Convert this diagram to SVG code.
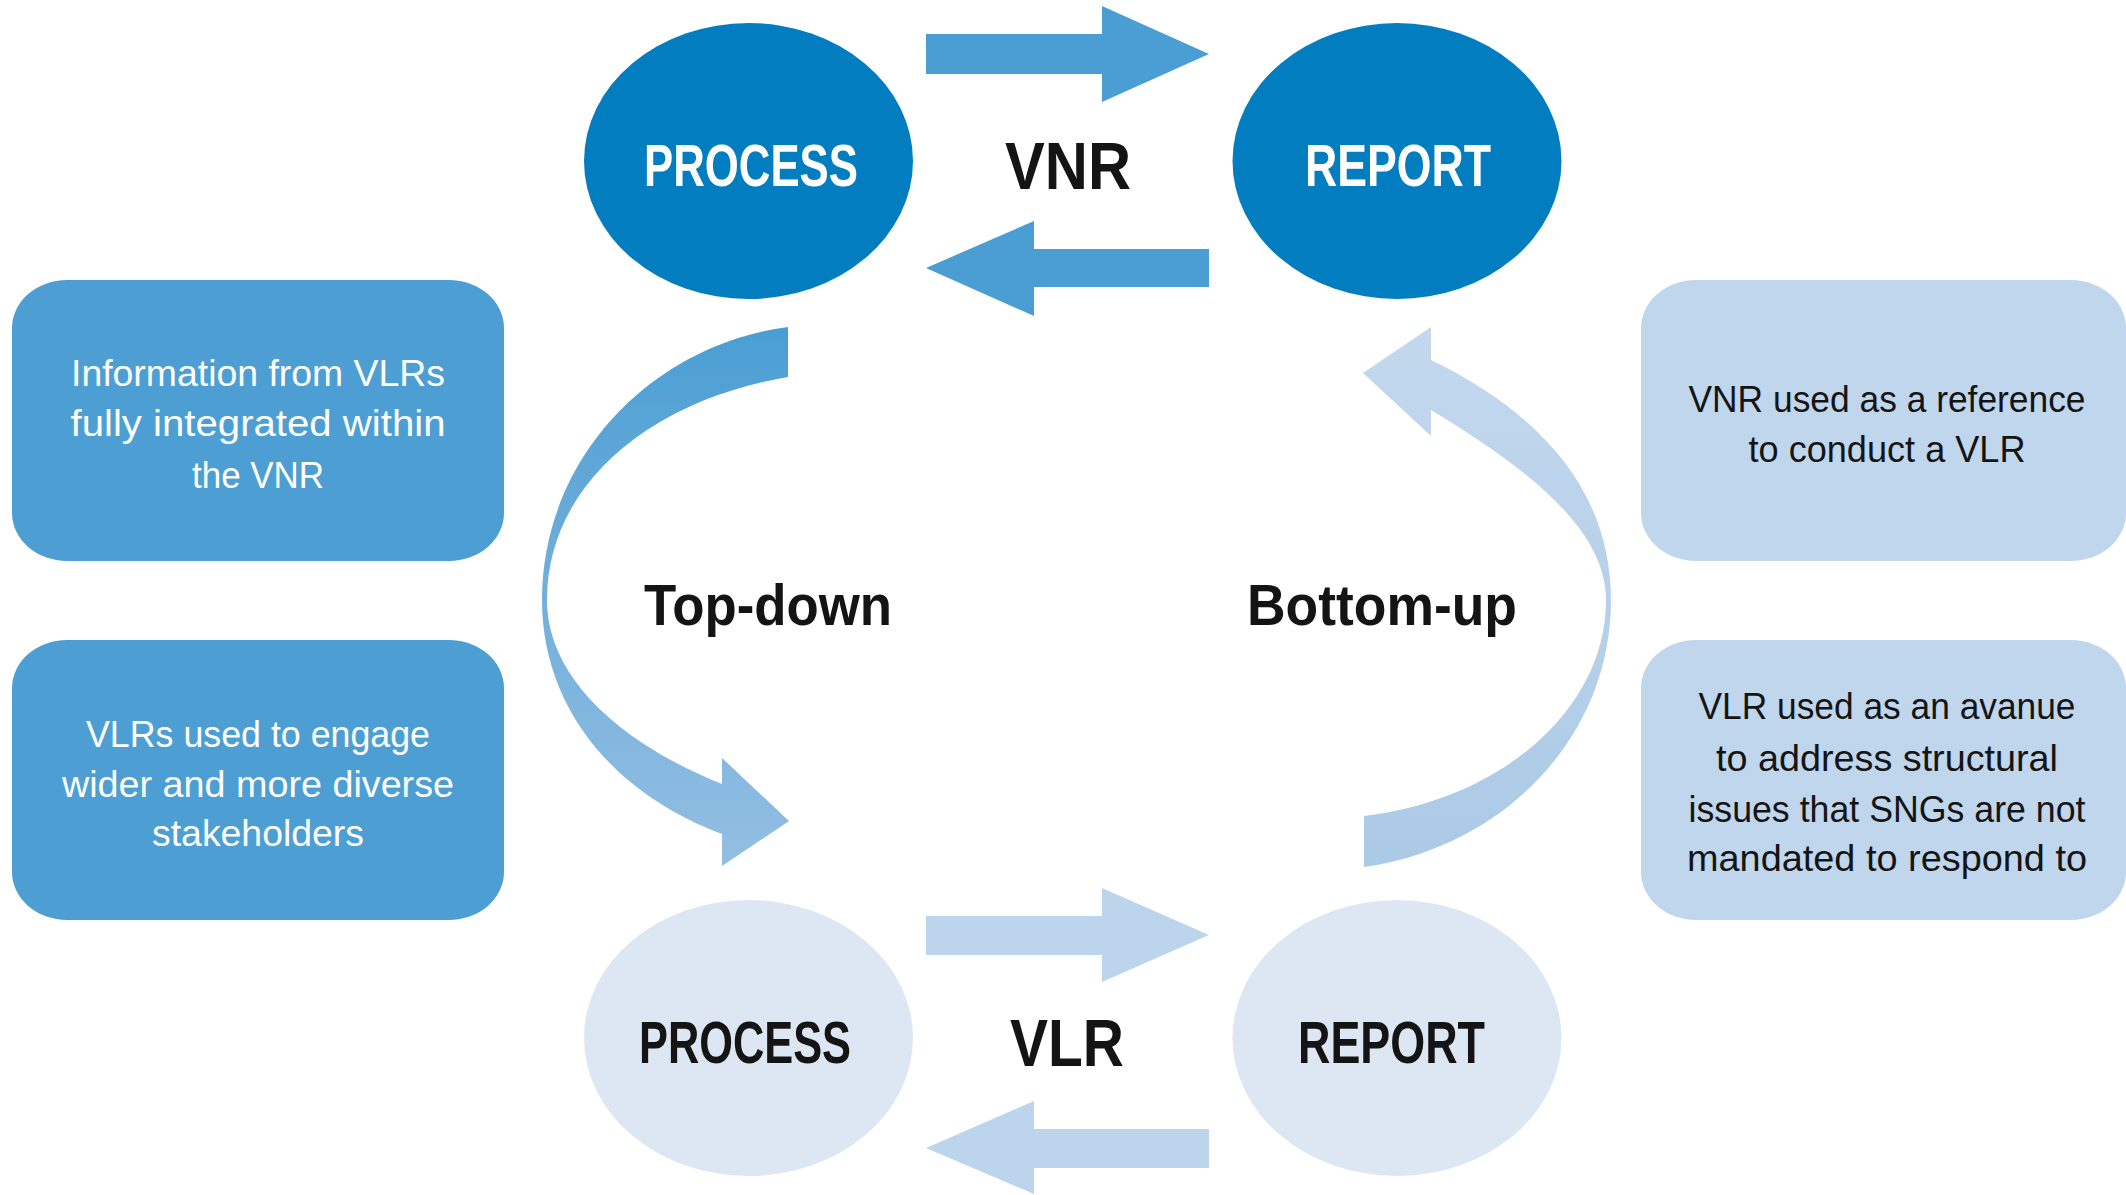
<svg xmlns="http://www.w3.org/2000/svg" width="2126" height="1195" viewBox="0 0 2126 1195">
<defs>
<style>
.lbl{font-family:"Liberation Sans",Arial,sans-serif;font-weight:bold;}
.box{font-family:"Liberation Sans",Arial,sans-serif;font-size:37px;text-anchor:middle;}
.wt{fill:#ffffff;}
.dk{fill:#141414;}
.darkE{fill:#027DBF;}
.lightE{fill:#DDE7F4;}
.arrowD{fill:#4A9ED3;}
.arrowL{fill:#BDD5EC;}
.boxD{fill:#4D9FD3;}
.boxL{fill:#C0D6EC;}
</style>
<linearGradient id="gTD" x1="0" y1="327" x2="0" y2="866" gradientUnits="userSpaceOnUse">
<stop offset="0" stop-color="#4A9ED3"/>
<stop offset="0.45" stop-color="#6FAEDB"/>
<stop offset="1" stop-color="#93BEE2"/>
</linearGradient>
<linearGradient id="gBU" x1="0" y1="327" x2="0" y2="867" gradientUnits="userSpaceOnUse">
<stop offset="0" stop-color="#C3D8ED"/>
<stop offset="1" stop-color="#ABCAE6"/>
</linearGradient>
</defs>
<rect width="2126" height="1195" fill="#ffffff"/>

<g id="connectors">
<polygon id="vnr-right" class="arrowD" points="926,34 1102,34 1102,6 1209,54 1102,102 1102,74 926,74"/>
<polygon id="vnr-left" class="arrowD" points="1209,249 1034,249 1034,221 926,268 1034,316 1034,287 1209,287"/>
<polygon id="vlr-right" class="arrowL" points="926,916 1102,916 1102,888 1209,935 1102,982 1102,955 926,955"/>
<polygon id="vlr-left" class="arrowL" points="1209,1129 1034,1129 1034,1101 926,1148 1034,1194 1034,1168 1209,1168"/>
<g id="top-down-arrow" fill="url(#gTD)">
<path d="M788,327 C650,345 542,460 542,600 C542,700 605,790 722,834 L722,784 C625,745 547,680 547,600 C547,485 650,400 788,377 Z"/>
<polygon points="722,758 789,821 722,866"/>
</g>
<g id="bottom-up-arrow" fill="url(#gBU)">
<path d="M1364,867 C1500,848 1611,740 1611,600 C1611,495 1545,415 1431,360 L1431,410 C1530,470 1606,530 1606,600 C1606,710 1500,800 1364,816 Z"/>
<polygon points="1431,327 1363,373 1431,436"/>
</g>
</g>

<g id="vnr-process">
<ellipse class="darkE" cx="748.5" cy="161" rx="164.5" ry="138"/>
<text class="lbl wt" x="644" y="186" font-size="60" textLength="214" lengthAdjust="spacingAndGlyphs">PROCESS</text>
</g>
<g id="vnr-report">
<ellipse class="darkE" cx="1397" cy="161" rx="164.5" ry="138"/>
<text class="lbl wt" x="1305" y="186" font-size="60" textLength="186" lengthAdjust="spacingAndGlyphs">REPORT</text>
</g>
<g id="vnr-label">
<text class="lbl dk" x="1005" y="189" font-size="66" textLength="126" lengthAdjust="spacingAndGlyphs">VNR</text>
</g>

<g id="vlr-process">
<ellipse class="lightE" cx="748.5" cy="1038" rx="164.5" ry="138"/>
<text class="lbl dk" x="639" y="1063" font-size="60" textLength="212" lengthAdjust="spacingAndGlyphs">PROCESS</text>
</g>
<g id="vlr-report">
<ellipse class="lightE" cx="1397" cy="1038" rx="164.5" ry="138"/>
<text class="lbl dk" x="1298" y="1063" font-size="60" textLength="187" lengthAdjust="spacingAndGlyphs">REPORT</text>
</g>
<g id="vlr-label">
<text class="lbl dk" x="1010" y="1066" font-size="66" textLength="114" lengthAdjust="spacingAndGlyphs">VLR</text>
</g>

<g id="top-down-label">
<text class="lbl dk" x="644" y="625" font-size="57" textLength="248" lengthAdjust="spacingAndGlyphs">Top-down</text>
</g>
<g id="bottom-up-label">
<text class="lbl dk" x="1247" y="625" font-size="57" textLength="270" lengthAdjust="spacingAndGlyphs">Bottom-up</text>
</g>

<g id="box-info">
<rect class="boxD" x="12" y="280" width="492" height="281" rx="55" ry="48"/>
<text class="box wt" x="258" y="386" textLength="374" lengthAdjust="spacingAndGlyphs">Information from VLRs</text>
<text class="box wt" x="258" y="436" textLength="375" lengthAdjust="spacingAndGlyphs">fully integrated within</text>
<text class="box wt" x="258" y="488" textLength="132" lengthAdjust="spacingAndGlyphs">the VNR</text>
</g>
<g id="box-engage">
<rect class="boxD" x="12" y="640" width="492" height="280" rx="55" ry="48"/>
<text class="box wt" x="258" y="747" textLength="344" lengthAdjust="spacingAndGlyphs">VLRs used to engage</text>
<text class="box wt" x="258" y="797" textLength="392" lengthAdjust="spacingAndGlyphs">wider and more diverse</text>
<text class="box wt" x="258" y="846" textLength="212" lengthAdjust="spacingAndGlyphs">stakeholders</text>
</g>
<g id="box-reference">
<rect class="boxL" x="1641" y="280" width="485" height="281" rx="55" ry="48"/>
<text class="box dk" x="1887" y="412" textLength="397" lengthAdjust="spacingAndGlyphs">VNR used as a reference</text>
<text class="box dk" x="1887" y="462" textLength="277" lengthAdjust="spacingAndGlyphs">to conduct a VLR</text>
</g>
<g id="box-avenue">
<rect class="boxL" x="1641" y="640" width="485" height="280" rx="55" ry="48"/>
<text class="box dk" x="1887" y="719" textLength="377" lengthAdjust="spacingAndGlyphs">VLR used as an avanue</text>
<text class="box dk" x="1887" y="771" textLength="342" lengthAdjust="spacingAndGlyphs">to address structural</text>
<text class="box dk" x="1887" y="822" textLength="397" lengthAdjust="spacingAndGlyphs">issues that SNGs are not</text>
<text class="box dk" x="1887" y="871" textLength="400" lengthAdjust="spacingAndGlyphs">mandated to respond to</text>
</g>
</svg>
